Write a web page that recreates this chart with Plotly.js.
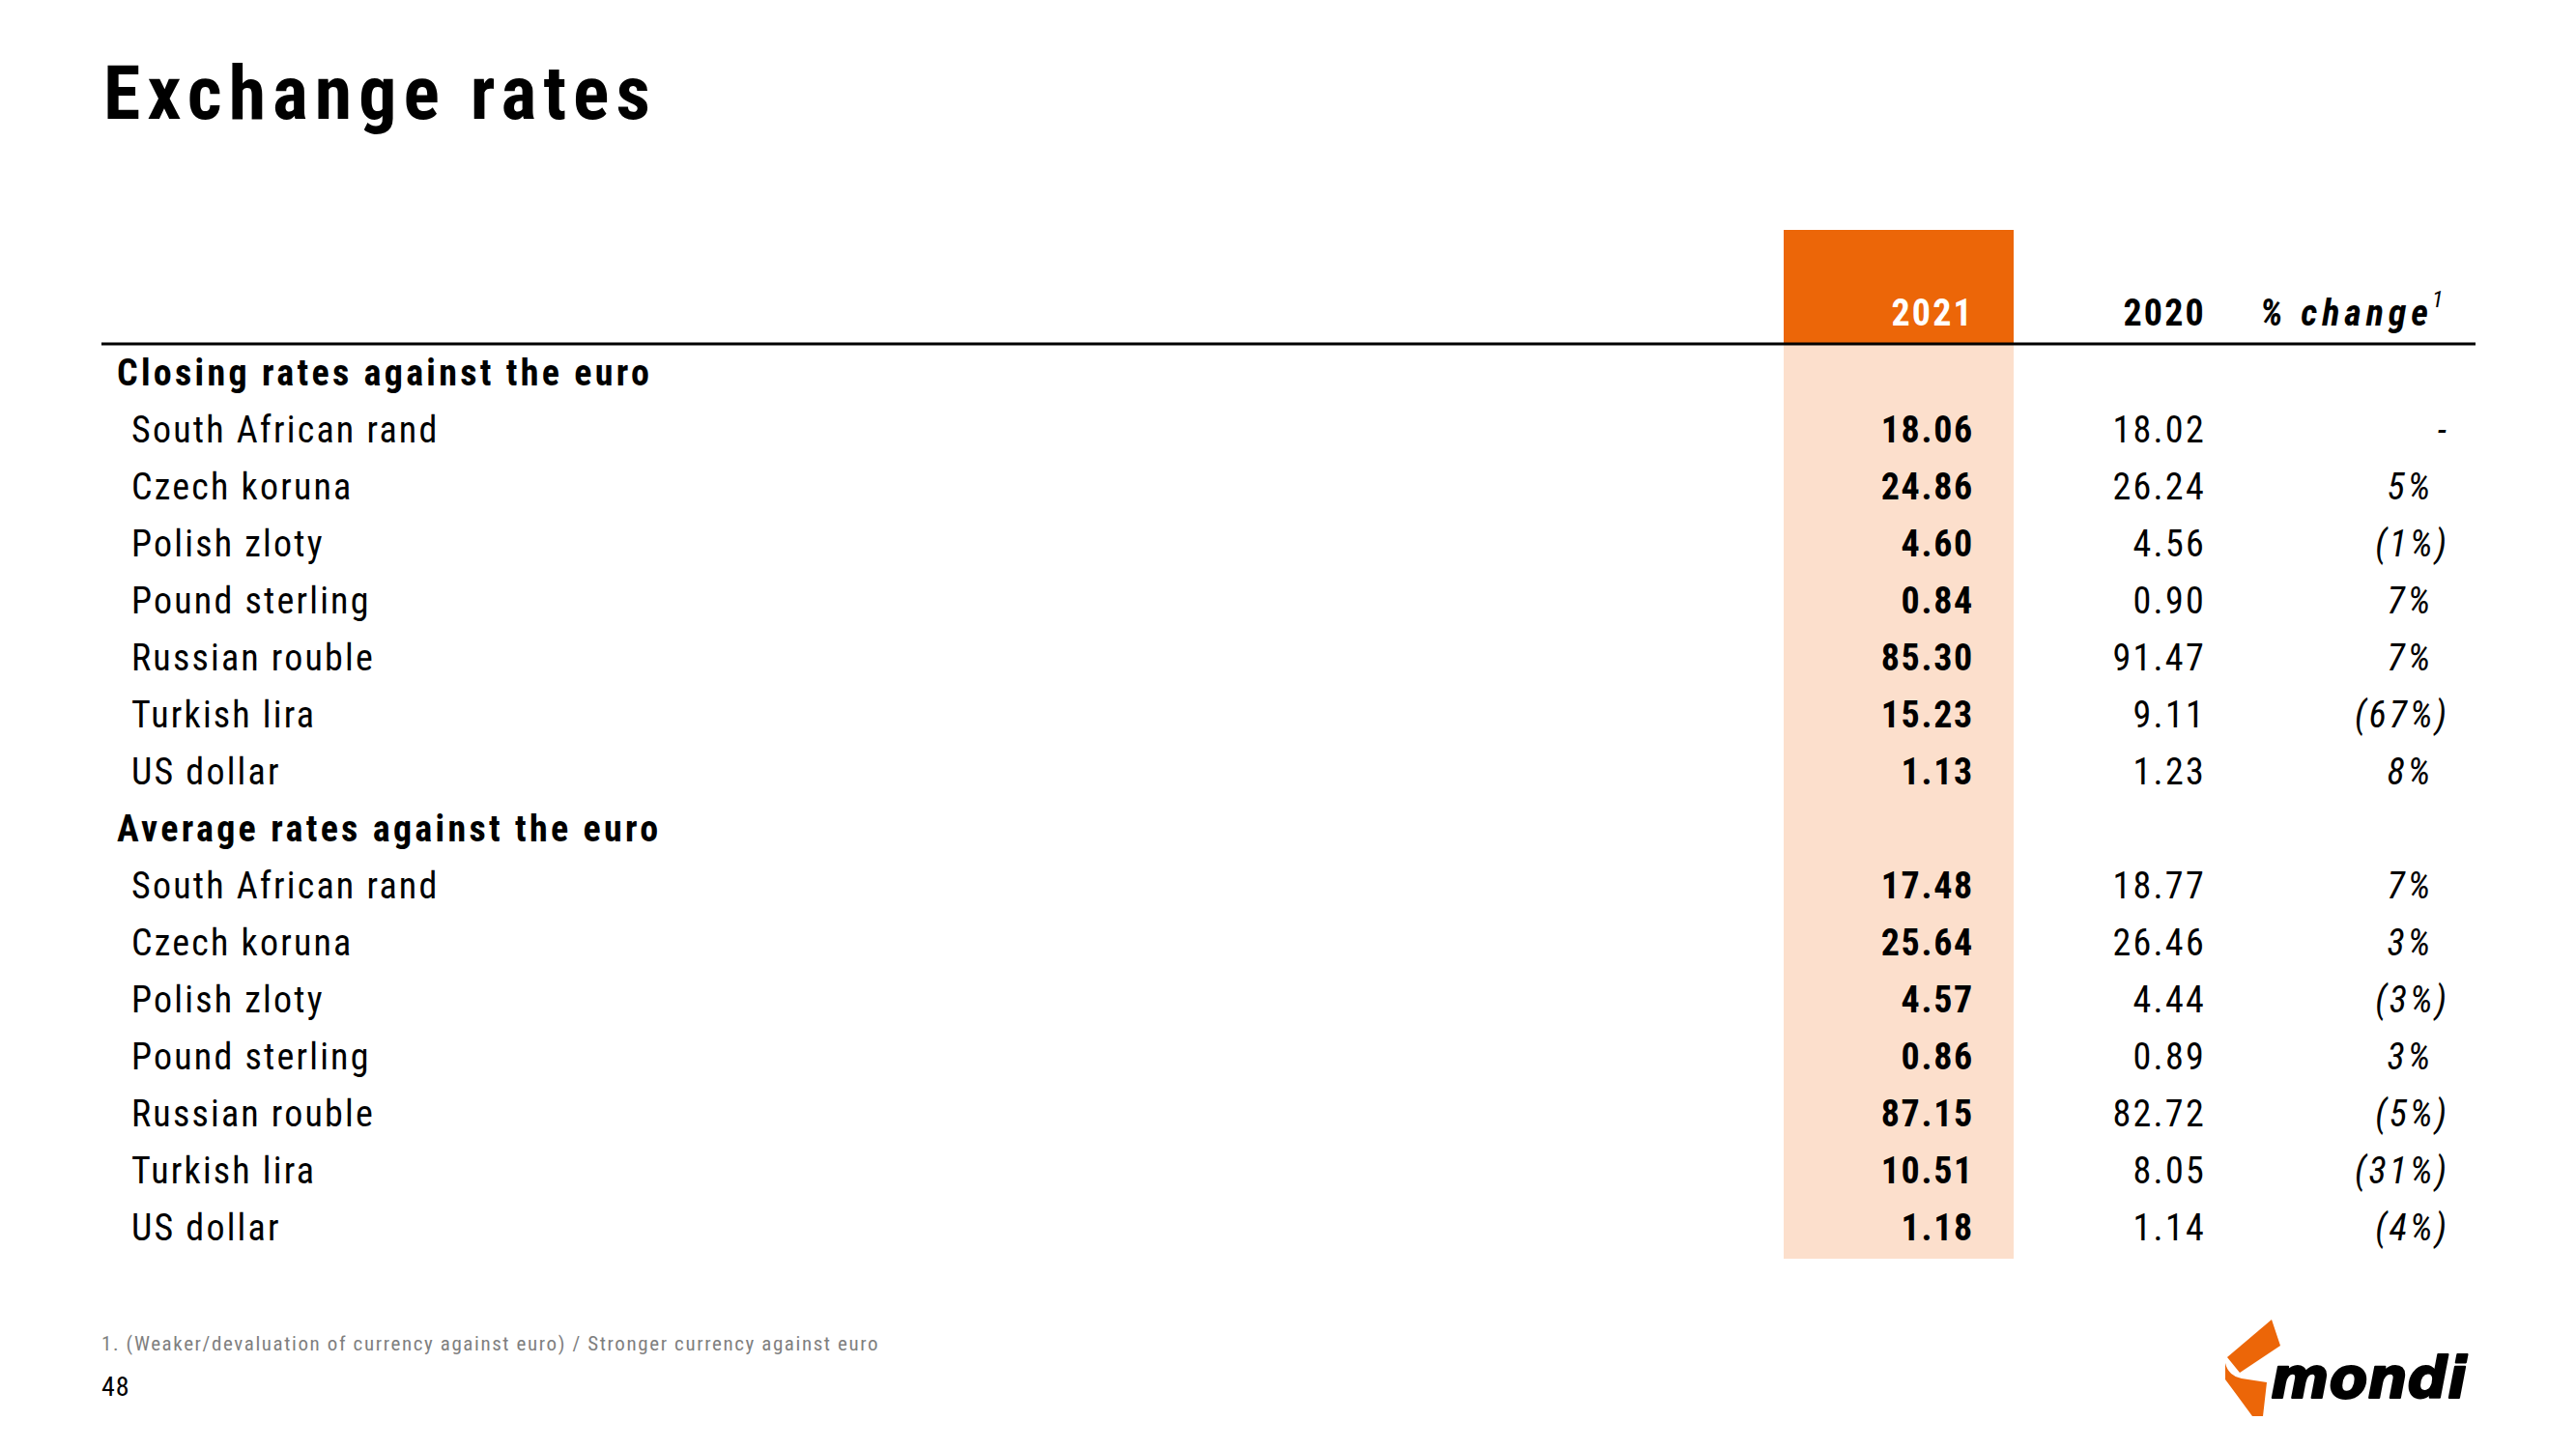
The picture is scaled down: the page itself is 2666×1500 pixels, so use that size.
<!DOCTYPE html>
<html>
<head>
<meta charset="utf-8">
<script src="https://cdn.plot.ly/plotly-3.0.1.min.js"></script>
<style>
html,body{margin:0;padding:0;background:#fff;}
#chart{width:2666px;height:1500px;}
</style>
</head>
<body>
<div id="chart"></div>
<script>
// ---- data ----
const title = 'Exchange rates';
const columnHeaders = ['2021', '2020', '% change'];
const footnoteMark = '1';
const sections = ['Closing rates against the euro', 'Average rates against the euro'];
const currencies = ['South African rand', 'Czech koruna', 'Polish zloty', 'Pound sterling', 'Russian rouble', 'Turkish lira', 'US dollar'];
const closing2021 = ['18.06', '24.86', '4.60', '0.84', '85.30', '15.23', '1.13'];
const closing2020 = ['18.02', '26.24', '4.56', '0.90', '91.47', '9.11', '1.23'];
const closingChange = ['-', '5%', '(1%)', '7%', '7%', '(67%)', '8%'];
const average2021 = ['17.48', '25.64', '4.57', '0.86', '87.15', '10.51', '1.18'];
const average2020 = ['18.77', '26.46', '4.44', '0.89', '82.72', '8.05', '1.14'];
const averageChange = ['7%', '3%', '(3%)', '3%', '(5%)', '(31%)', '(4%)'];
const footnote = '1. (Weaker/devaluation of currency against euro) / Stronger currency against euro';
const pageNumber = '48';
const logoText = 'mondi';

// ---- layout geometry ----
const W = 2666, H = 1500;
const ORANGE = '#EC6608', PEACH = '#FCDFCC';
const FONT = '"Liberation Sans Narrow", "Arial Narrow", "Roboto Condensed", "Liberation Sans", Arial, sans-serif';
const ROW0 = 389, ROWH = 59.06, HEADY = 327;
const X_SECTION = 121, X_ITEM = 136, X_2021 = 2043, X_2020 = 2283, X_PCT = 2535, X_PCT_POS = 2518;
const FS = 38;

// build rows
const labelX = [], labelY = [], labelT = [];
const secX = [], secY = [], secT = [];
const v21X = [], v21Y = [], v21T = [];
const v20X = [], v20Y = [], v20T = [];
const pcX = [], pcY = [], pcT = [];
let row = 0;
[[closing2021, closing2020, closingChange], [average2021, average2020, averageChange]].forEach((grp, s) => {
  secX.push(X_SECTION); secY.push(ROW0 + row * ROWH); secT.push(sections[s]); row++;
  currencies.forEach((c, k) => {
    const y = ROW0 + row * ROWH;
    labelX.push(X_ITEM); labelY.push(y); labelT.push(c);
    v21X.push(X_2021); v21Y.push(y); v21T.push(grp[0][k]);
    v20X.push(X_2020); v20Y.push(y); v20T.push(grp[1][k]);
    const p = grp[2][k];
    pcX.push((p.endsWith(')') || p === '-') ? X_PCT : X_PCT_POS); pcY.push(y); pcT.push(p);
    row++;
  });
});
const lastY = ROW0 + (row - 1) * ROWH;

const txt = (x, y, t, pos, font) => ({
  type: 'scatter', mode: 'text', x, y, text: t, textposition: pos,
  textfont: Object.assign({family: FONT, size: FS, color: '#000'}, font),
  hoverinfo: 'skip', showlegend: false, cliponaxis: false
});

// letter spacing (px) per trace, same order as traces
const spacing = [3.3, 2.2, 1.7, 2.3, 3, 2.2, 5, 0, 1.6, 1, 0];
const traces = [
  txt(secX, secY, secT, 'middle right', {weight: 'bold'}),
  txt(labelX, labelY, labelT, 'middle right', {}),
  txt(v21X, v21Y, v21T, 'middle left', {weight: 'bold'}),
  txt(v20X, v20Y, v20T, 'middle left', {}),
  txt(pcX, pcY, pcT, 'middle left', {style: 'italic'}),
  txt([X_2021, X_2020], [HEADY, HEADY], columnHeaders.slice(0, 2), 'middle left', {weight: 'bold', color: ['#fff', '#000']}),
  txt([X_PCT_POS], [HEADY], [columnHeaders[2]], 'middle left', {weight: 'bold', style: 'italic'}),
  txt([X_PCT_POS - 1], [HEADY - 15], [footnoteMark], 'middle right', {style: 'italic', size: 24}),
  txt([105], [1393], [footnote], 'middle right', {size: 21, color: '#7f7f7f'}),
  txt([105], [1438], [pageNumber], 'middle right', {size: 28}),
  txt([2350], [1432], [logoText], 'middle right', {family: '"DejaVu Sans", Verdana, sans-serif', size: 58, weight: 'bold', style: 'italic'})
];

const layout = {
  width: W, height: H,
  margin: {l: 0, r: 0, t: 0, b: 0},
  paper_bgcolor: '#fff', plot_bgcolor: '#fff',
  showlegend: false,
  xaxis: {range: [0, W], visible: false, fixedrange: true},
  yaxis: {range: [H, 0], visible: false, fixedrange: true},
  title: {text: '<b>' + title + '</b>', x: 107 / W, xanchor: 'left', y: 1 - 96 / H, yanchor: 'middle',
          font: {family: FONT, size: 78, color: '#000'}},
  shapes: [
    {type: 'rect', xref: 'x', yref: 'y', x0: 1846, x1: 2084, y0: 238, y1: 355, fillcolor: ORANGE, line: {width: 0}, layer: 'below'},
    {type: 'rect', xref: 'x', yref: 'y', x0: 1846, x1: 2084, y0: 355, y1: lastY + 28, fillcolor: PEACH, line: {width: 0}, layer: 'below'},
    {type: 'line', xref: 'x', yref: 'y', x0: 105, x1: 2562, y0: 356, y1: 356, line: {color: '#000', width: 3}},
    {type: 'path', xref: 'x', yref: 'y', path: 'M2305,1405 L2351,1366 L2360,1393 L2318,1421 Z', fillcolor: ORANGE, line: {width: 0}},
    {type: 'path', xref: 'x', yref: 'y', path: 'M2303,1411 Q2306,1424 2320,1427 L2346,1431 L2342,1466 L2331,1466 Q2312,1440 2303,1428 Z', fillcolor: ORANGE, line: {width: 0}}
  ]
};

Plotly.newPlot('chart', traces, layout, {staticPlot: true, displayModeBar: false}).then(() => {
  const gd = document.getElementById('chart');
  const trs = gd.querySelectorAll('.scatterlayer .trace');
  trs.forEach((tr, i) => {
    tr.querySelectorAll('text').forEach(t => { t.style.letterSpacing = spacing[i] + 'px'; });
  });
  // heavier logo lettering
  trs[trs.length - 1].querySelectorAll('text').forEach(t => {
    t.style.stroke = '#000'; t.style.strokeWidth = '2px'; t.style.strokeLinejoin = 'round';
  });
  gd.querySelectorAll('.gtitle').forEach(t => { t.style.letterSpacing = '7px'; });
});
</script>
</body>
</html>
